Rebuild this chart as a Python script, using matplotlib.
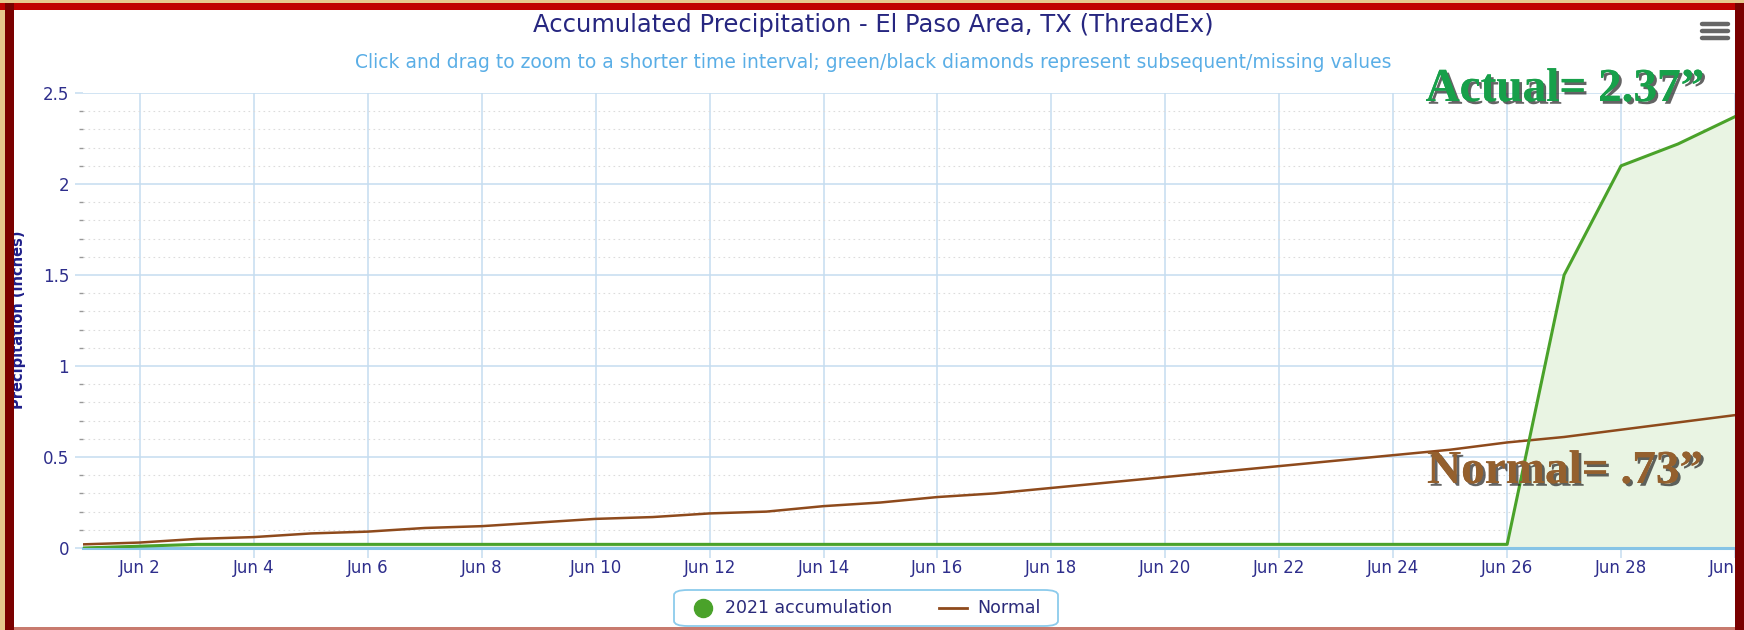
import matplotlib.pyplot as plt
import matplotlib.dates as mdates
import matplotlib.patheffects as pe
from matplotlib.patches import Rectangle, FancyBboxPatch
from matplotlib.lines import Line2D
import numpy as np
import pandas as pd

# --- DATA ---
dates = pd.date_range("2021-06-01", "2021-06-30", freq="D")
actual_2021 = [0.0, 0.01, 0.02, 0.02, 0.02, 0.02, 0.02, 0.02, 0.02, 0.02,
               0.02, 0.02, 0.02, 0.02, 0.02, 0.02, 0.02, 0.02, 0.02, 0.02,
               0.02, 0.02, 0.02, 0.02, 0.02, 0.02, 1.50, 2.10, 2.22, 2.37]
normal = [0.02, 0.03, 0.05, 0.06, 0.08, 0.09, 0.11, 0.12, 0.14, 0.16,
          0.17, 0.19, 0.20, 0.23, 0.25, 0.28, 0.30, 0.33, 0.36, 0.39,
          0.42, 0.45, 0.48, 0.51, 0.54, 0.58, 0.61, 0.65, 0.69, 0.73]

title = "Accumulated Precipitation - El Paso Area, TX (ThreadEx)"
subtitle = ("Click and drag to zoom to a shorter time interval; "
            "green/black diamonds represent subsequent/missing values")

navy = '#2e2e8c'
green = '#4aa22a'
brown = '#8e4a1c'
grid_blue = '#c5ddf0'

fig = plt.figure(figsize=(17.44, 6.30), dpi=100)
fig.patch.set_facecolor('white')
ax = fig.add_axes([83 / 1744, 1 - 548 / 630, (1735 - 83) / 1744, (548 - 93) / 630])

ax.fill_between(dates, actual_2021, 0, color='#e9f4e3', zorder=1)
ax.plot(dates, actual_2021, color=green, lw=2.2, zorder=4)
ax.plot(dates, normal, color=brown, lw=1.8, zorder=3)

ax.set_xlim(dates[0], dates[-1])
ax.set_ylim(0, 2.5)

# grid
ax.set_yticks([0, 0.5, 1, 1.5, 2, 2.5])
ax.set_yticklabels(['0', '0.5', '1', '1.5', '2', '2.5'])
ax.set_yticks(np.arange(0.1, 2.5, 0.1), minor=True)
ax.xaxis.set_major_locator(mdates.DayLocator(bymonthday=range(2, 31, 2)))
ax.xaxis.set_major_formatter(mdates.DateFormatter('Jun %-d'))
ax.grid(which='major', axis='both', color=grid_blue, lw=1.1, zorder=0)
ax.grid(which='minor', axis='y', color='#dcdcdc', lw=0.8, ls=(0, (1.5, 3)), zorder=0)
ax.set_axisbelow(True)

for s in ['top', 'right', 'left']:
    ax.spines[s].set_visible(False)
ax.spines['bottom'].set_color('#86c4e6')
ax.spines['bottom'].set_linewidth(2.2)

ax.tick_params(axis='x', colors=grid_blue, length=7, width=1.1, labelcolor=navy,
               labelsize=12, pad=1)
ax.tick_params(axis='y', which='major', colors=grid_blue, length=6, width=1.1,
               labelcolor=navy, labelsize=12, pad=4)
ax.tick_params(axis='y', which='minor', colors='#999999', length=3, width=1)

# titles
fig.text(873 / 1744, 1 - 25 / 630, title, ha='center', va='center',
         fontsize=17.5, color='#262680')
fig.text(873 / 1744, 1 - 63 / 630, subtitle, ha='center', va='center',
         fontsize=13.5, color='#5aaee6')

# y label (partly hidden by the frame)
fig.text(19 / 1744, 1 - 320 / 630, 'Precipitation (inches)', rotation=90,
         ha='center', va='center', fontsize=10.5, fontweight='bold', color='#1f1f8a')

# annotations
shadow = [pe.withSimplePatchShadow(offset=(2, -2), shadow_rgbFace='#222222', alpha=0.7),
          pe.Normal()]
fig.text(1565 / 1744, 1 - 90 / 630, 'Actual= 2.37\u201d', ha='center', va='center',
         fontsize=34, fontweight='bold', family='Liberation Serif', color='#17a04a',
         path_effects=shadow)
fig.text(1565 / 1744, 1 - 472 / 630, 'Normal= .73\u201d', ha='center', va='center',
         fontsize=34, fontweight='bold', family='Liberation Serif', color='#94602e',
         path_effects=shadow)

# legend box
leg_box = FancyBboxPatch((674 / 1744, 1 - 626 / 630), (1058 - 674) / 1744, 36 / 630,
                         boxstyle='round,pad=0,rounding_size=0.008',
                         transform=fig.transFigure, fc='white', ec='#8ccbec', lw=1.3,
                         zorder=5)
fig.add_artist(leg_box)
fig.add_artist(Line2D([703 / 1744], [1 - 608 / 630], marker='o', ms=13, color=green,
                      transform=fig.transFigure, zorder=6))
fig.text(725 / 1744, 1 - 608 / 630, '2021 accumulation', va='center', fontsize=12.5,
         color='#2a2a7a', zorder=6)
fig.add_artist(Line2D([939 / 1744, 967 / 1744], [1 - 608 / 630] * 2, color=brown, lw=2,
                      transform=fig.transFigure, zorder=6))
fig.text(977 / 1744, 1 - 608 / 630, 'Normal', va='center', fontsize=12.5,
         color='#2a2a7a', zorder=6)

# menu icon
for yy in (24, 31, 38):
    fig.add_artist(Line2D([1702 / 1744, 1728 / 1744], [1 - yy / 630] * 2, color='#666666',
                          lw=3.2, solid_capstyle='round', transform=fig.transFigure,
                          zorder=6))

# outer frame: tan background with dark red border
W, H = 1744, 630
def frame_rect(x0, y0, w, h, color):
    fig.add_artist(Rectangle((x0 / W, 1 - (y0 + h) / H), w / W, h / H,
                             transform=fig.transFigure, fc=color, ec='none', zorder=20))

frame_rect(0, 0, W, 3, '#e6c88e')
frame_rect(0, 0, 5, H, '#e6c88e')
frame_rect(0, 3, W, 7, '#c00000')
frame_rect(5, 3, 9, H - 3, '#7a0000')
frame_rect(1735, 3, 9, H - 3, '#7a0000')
frame_rect(14, 627, 1721, 3, '#c87a6e')

fig.savefig('out.png', dpi=100, facecolor=fig.get_facecolor())
